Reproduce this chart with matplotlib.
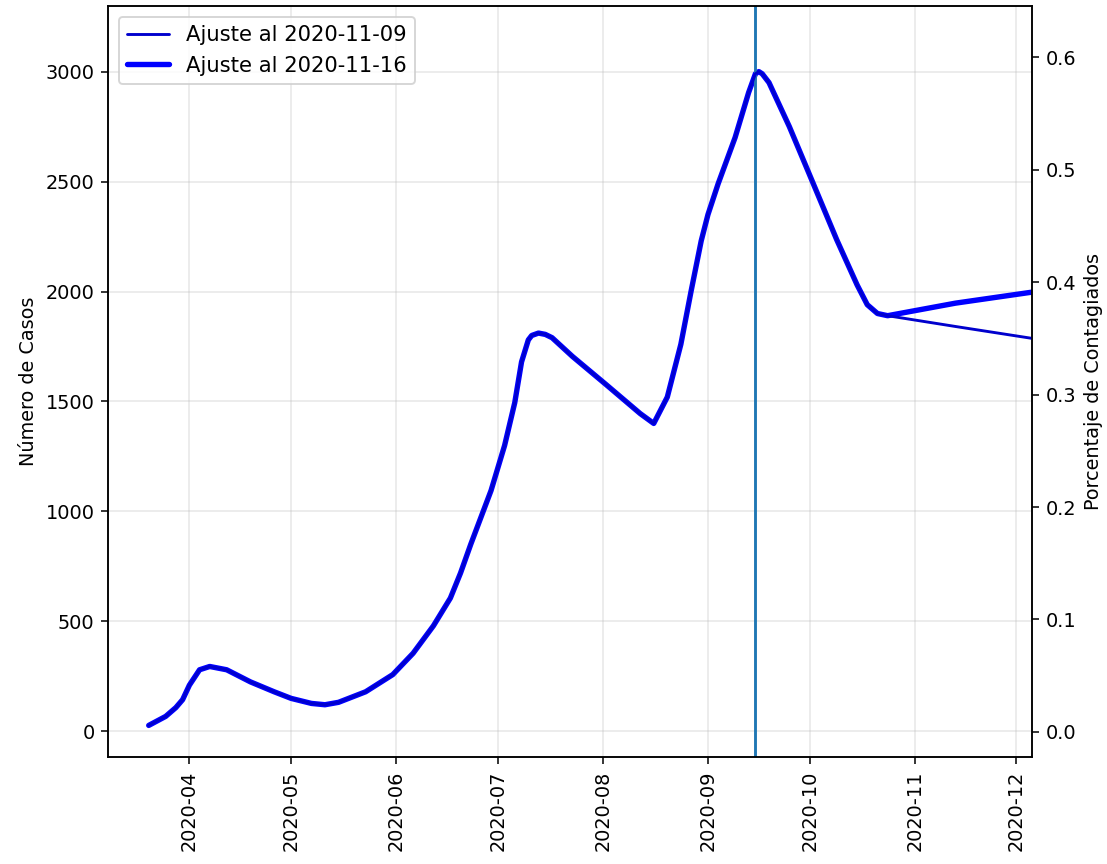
import matplotlib
matplotlib.use("Agg")
import matplotlib.pyplot as plt
import matplotlib.dates as mdates
import pandas as pd

# ---- data ----
fechas_comunes = ["2020-03-20", "2020-03-25", "2020-03-28", "2020-03-30", "2020-04-01",
                  "2020-04-04", "2020-04-07", "2020-04-12", "2020-04-19", "2020-04-26",
                  "2020-05-01", "2020-05-07", "2020-05-11", "2020-05-15", "2020-05-23",
                  "2020-05-31", "2020-06-06", "2020-06-12", "2020-06-17", "2020-06-20",
                  "2020-06-23",
                  "2020-06-29", "2020-07-03", "2020-07-06", "2020-07-08", "2020-07-10",
                  "2020-07-11", "2020-07-13", "2020-07-15", "2020-07-17", "2020-07-23",
                  "2020-08-02", "2020-08-12",
                  "2020-08-16", "2020-08-20", "2020-08-24", "2020-08-27", "2020-08-30",
                  "2020-09-01", "2020-09-04", "2020-09-09", "2020-09-13", "2020-09-15",
                  "2020-09-16", "2020-09-17", "2020-09-19", "2020-09-25", "2020-10-02",
                  "2020-10-09", "2020-10-15", "2020-10-18", "2020-10-21", "2020-10-24"]
casos_comunes = [27, 68, 108, 144, 210,
                 280, 295, 280, 225, 180,
                 150, 127, 121, 132, 180,
                 258, 355, 480, 606, 720,
                 850,
                 1095, 1300, 1495, 1680, 1780,
                 1800, 1811, 1805, 1790, 1705,
                 1576, 1445,
                 1400, 1520, 1760, 2000, 2230,
                 2350, 2490, 2700, 2905, 2990,
                 3000, 2990, 2950, 2750, 2493,
                 2235, 2030, 1940, 1900, 1890]

fechas_cola = ["2020-11-13", "2020-12-06"]
casos_cola_1109 = [1841, 1786]
casos_cola_1116 = [1947, 1998]

etiquetas = ["Ajuste al 2020-11-09", "Ajuste al 2020-11-16"]
fecha_linea = "2020-09-15"

# ---- build series ----
x1 = pd.to_datetime(fechas_comunes + fechas_cola)
y_1109 = casos_comunes + casos_cola_1109
y_1116 = casos_comunes + casos_cola_1116

plt.rcParams["font.family"] = ["DejaVu Sans"]
plt.rcParams["font.size"] = 10

DPI = 138.375
fig, ax = plt.subplots(figsize=(1107 / DPI, 864 / DPI), dpi=DPI)
fig.subplots_adjust(left=0.0976, right=0.9322, top=0.993, bottom=0.124)

ax.plot(x1, y_1109, color="mediumblue", lw=1.5, label=etiquetas[0],
        solid_joinstyle="round", solid_capstyle="round", zorder=3)
ax.plot(x1, y_1116, color="blue", lw=2.8, label=etiquetas[1],
        solid_joinstyle="round", solid_capstyle="round", zorder=2)
ax.axvline(pd.Timestamp(fecha_linea), color="#1f77b4", lw=1.5)

ax.set_xlim(pd.Timestamp("2020-03-08"), pd.Timestamp("2020-12-05 14:00"))
ax.set_ylim(-116, 3298)
ax.set_ylabel("Número de Casos")
ax.grid(True, color="#b0b0b0", lw=0.8, alpha=0.3)
ax.xaxis.set_major_locator(mdates.MonthLocator())
ax.xaxis.set_major_formatter(mdates.DateFormatter("%Y-%m"))
for lbl in ax.get_xticklabels():
    lbl.set_rotation(90)

ax2 = ax.twinx()
ax2.set_ylim(-0.0222, 0.6456)
ax2.set_yticks([0.0, 0.1, 0.2, 0.3, 0.4, 0.5, 0.6])
ax2.set_ylabel("Porcentaje de Contagiados")

ax.legend(loc="upper left", fontsize=11)

fig.savefig("out.png", dpi=DPI)
